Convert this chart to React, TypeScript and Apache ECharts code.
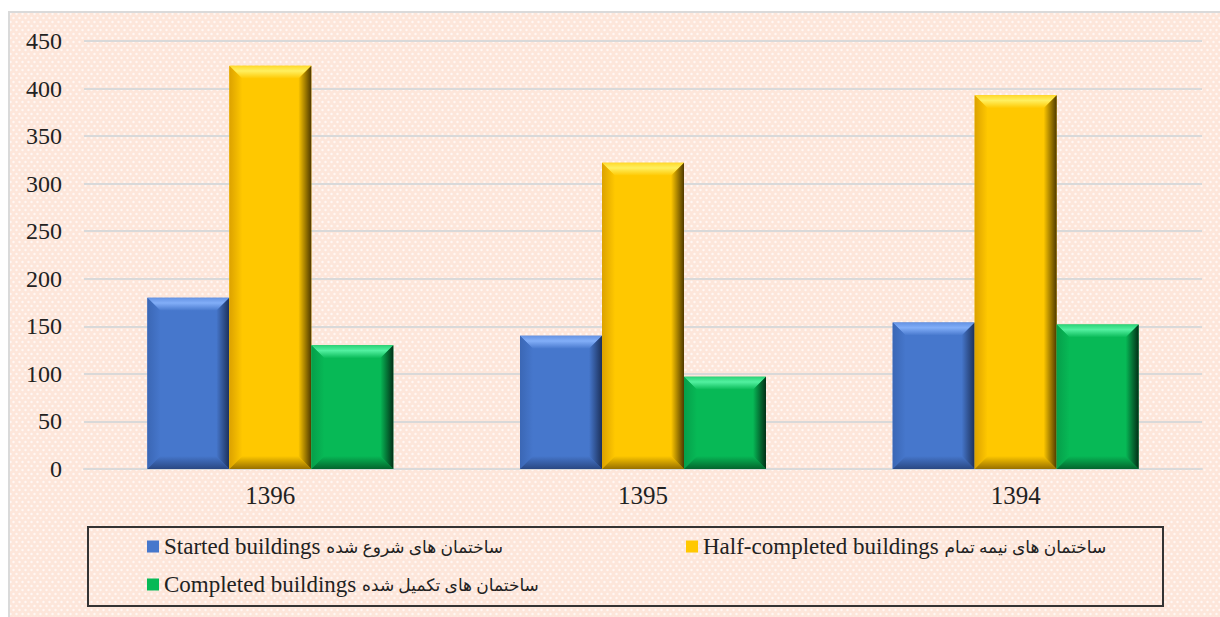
import React, { useEffect, useRef } from "react";
import * as echarts from "echarts";

const categories = ["1396", "1395", "1394"];
const namesEn = ["Started buildings", "Half-completed buildings", "Completed buildings"];
const namesFa = ["ساختمان های شروع شده", "ساختمان های نیمه تمام", "ساختمان های تکمیل شده"];
const seriesNames = namesEn.map((en, i) => en + " " + namesFa[i]);
const started = [180, 140, 154];
const halfCompleted = [424, 322, 393];
const completed = [130, 97, 152];
const yMin = 0;
const yMax = 450;
const yInterval = 50;

const palettes = [
  { main: "#4677cc", topEdge: "#6593e4", topLight: "#82aef8", dark: "#1c305a", bottom: "#2a4883", leftEdge: "#3b67b5" },
  { main: "#ffc800", topEdge: "#ffd92a", topLight: "#fff060", dark: "#4e3900", bottom: "#987000", leftEdge: "#dca200" },
  { main: "#07b956", topEdge: "#2bd477", topLight: "#52f0a0", dark: "#022f16", bottom: "#04652d", leftEdge: "#069f4a" },
];

const FONT = "'Liberation Serif', 'Times New Roman', 'DejaVu Sans', serif";

function makePattern(): string {
  const c = document.createElement("canvas");
  c.width = 6;
  c.height = 8;
  const ctx = c.getContext("2d")!;
  ctx.fillStyle = "#fde6da";
  ctx.fillRect(0, 0, 6, 8);
  ctx.fillStyle = "#fff7f3";
  ctx.beginPath();
  ctx.arc(1.5, 2, 1.2, 0, Math.PI * 2);
  ctx.fill();
  ctx.beginPath();
  ctx.arc(4.5, 6, 1.2, 0, Math.PI * 2);
  ctx.fill();
  return c.toDataURL();
}

const makeRender = (s: number) => (params: any, api: any) => {
  const c = palettes[s];
  const cat = api.value(0);
  const val = api.value(1);
  const base = api.coord([cat, 0]);
  const top = api.coord([cat, val]);
  const band = api.size([1, 0])[0];
  const bw = band * 0.22;
  const x = base[0] - 1.5 * bw + s * bw;
  const y = top[1];
  const w = bw;
  const h = base[1] - top[1];
  const b = Math.min(13, h / 2, w / 2);
  const G = echarts.graphic.LinearGradient;
  return {
    type: "group",
    children: [
      { type: "rect", shape: { x, y, width: w, height: h }, style: { fill: c.main } },
      {
        type: "polygon",
        shape: { points: [[x, y], [x + w, y], [x + w - b, y + b], [x + b, y + b]] },
        style: { fill: new G(0, 0, 0, 1, [{ offset: 0, color: c.topEdge }, { offset: 0.4, color: c.topLight }, { offset: 1, color: c.main }]) },
      },
      {
        type: "polygon",
        shape: { points: [[x, y], [x, y + h], [x + b, y + h - b], [x + b, y + b]] },
        style: { fill: new G(1, 0, 0, 0, [{ offset: 0, color: c.main }, { offset: 1, color: c.leftEdge }]) },
      },
      {
        type: "polygon",
        shape: { points: [[x, y + h], [x + w, y + h], [x + w - b, y + h - b], [x + b, y + h - b]] },
        style: { fill: new G(0, 0, 0, 1, [{ offset: 0, color: c.main }, { offset: 1, color: c.bottom }]) },
      },
      {
        type: "polygon",
        shape: { points: [[x + w, y], [x + w, y + h], [x + w - b, y + h - b], [x + w - b, y + b]] },
        style: { fill: new G(0, 0, 1, 0, [{ offset: 0, color: c.main }, { offset: 1, color: c.dark }]) },
      },
    ],
  };
};

export default function App() {
  const ref = useRef<HTMLDivElement>(null);
  useEffect(() => {
    if (!ref.current) return;
    const chart = echarts.init(ref.current, undefined, { renderer: "svg" });
    const patternUrl = makePattern();
    const values = [started, halfCompleted, completed];
    const legendBase = {
      orient: "horizontal" as const,
      itemWidth: 12,
      itemHeight: 12,
      itemGap: 4,
      padding: 0,
      icon: "rect",
      selectedMode: false,
      formatter: (name: string) => {
        const i = seriesNames.indexOf(name);
        return "{en|" + namesEn[i] + " }{fa|" + namesFa[i] + "}";
      },
      textStyle: {
        color: "#222",
        fontFamily: FONT,
        rich: {
          en: { fontSize: 23, color: "#222", fontFamily: FONT },
          fa: { fontSize: 17, color: "#222", fontFamily: FONT, padding: [2, 0, 0, 0] },
        },
      },
    };
    chart.setOption({
      animation: false,
      backgroundColor: "#ffffff",
      graphic: [
        {
          type: "rect",
          z: -10,
          silent: true,
          shape: { x: 9, y: 12, width: 1220, height: 620 },
          style: {
            fill: { image: patternUrl, repeat: "repeat", imageWidth: 6, imageHeight: 8 } as any,
            stroke: "#dadada",
            lineWidth: 2,
          },
        },
        {
          type: "rect",
          z: 1,
          silent: true,
          shape: { x: 88, y: 527, width: 1075, height: 79 },
          style: { fill: "none", stroke: "#333333", lineWidth: 2 },
        },
      ],
      grid: { left: 84, right: 18, top: 41, bottom: 148, containLabel: false },
      xAxis: {
        type: "category",
        data: categories,
        axisTick: { show: false },
        axisLine: { lineStyle: { color: "#d9d9d9", width: 2 } },
        axisLabel: { fontSize: 25, color: "#222", fontFamily: FONT, margin: 14 },
      },
      yAxis: {
        type: "value",
        min: yMin,
        max: yMax,
        interval: yInterval,
        axisLine: { show: false },
        axisTick: { show: false },
        splitLine: { lineStyle: { color: "#d9d9d9", width: 2 } },
        axisLabel: { fontSize: 24, color: "#222", fontFamily: FONT, margin: 22 },
      },
      legend: [
        { ...legendBase, data: [seriesNames[0]], left: 147, top: 535 },
        { ...legendBase, data: [seriesNames[1]], left: 686, top: 535 },
        { ...legendBase, data: [seriesNames[2]], left: 147, top: 573 },
      ],
      series: values.map((vals, s) => ({
        type: "custom",
        name: seriesNames[s],
        itemStyle: { color: palettes[s].main },
        encode: { x: 0, y: 1 },
        data: vals.map((v, i) => [i, v]),
        renderItem: makeRender(s),
      })),
    });
    return () => chart.dispose();
  }, []);
  return (
    <div
      ref={ref}
      style={{ position: "absolute", left: 0, top: 0, width: 1220, height: 617 }}
    />
  );
}
